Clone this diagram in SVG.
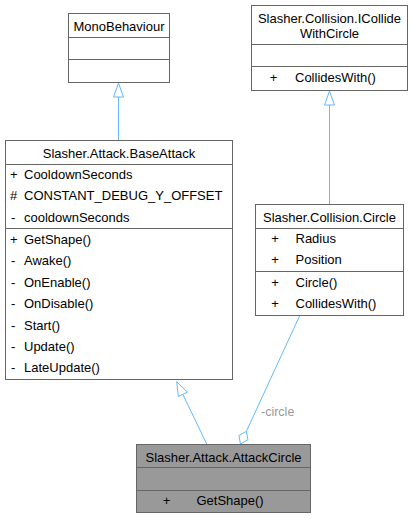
<svg xmlns="http://www.w3.org/2000/svg" width="413" height="519" viewBox="0 0 413 519">
<style>
  .box { fill: #ffffff; stroke: #666666; stroke-width: 1; }
  .cur { fill: #999999; stroke: #666666; stroke-width: 1; }
  .sep { stroke: #666666; stroke-width: 1; }
  text { font-family: "Liberation Sans", Arial, sans-serif; font-size: 13px; fill: #000000; }
  .c { text-anchor: middle; }
  .edge { fill: none; stroke: #63b8ff; stroke-width: 1; }
  .head { fill: #ffffff; stroke: #63b8ff; stroke-width: 1; }
  .lbl { fill: #9a9a9a; font-size: 12.5px; }
</style>
<rect width="413" height="519" fill="#ffffff"/>

<g id="connectors">
  <!-- BaseAttack -> MonoBehaviour -->
  <path class="edge" d="M118.5,140 V97"/>
  <polygon class="head" points="118.5,83 113.5,97 123.5,97"/>
  <!-- Circle -> ICollideWithCircle -->
  <path class="edge" d="M329.5,204 V105"/>
  <polygon class="head" points="329.5,91 324.5,105 334.5,105"/>
  <!-- AttackCircle -> BaseAttack -->
  <path class="edge" d="M206.7,444 L182.8,394.3"/>
  <polygon class="head" points="176.7,381.7 187.3,392.1 178.3,396.5"/>
  <!-- Circle -o AttackCircle -->
  <path class="edge" d="M300,315 L246.4,431.3"/>
  <polygon class="head" points="240.5,444 247.9,439.7 246.4,431.3 238.9,435.5"/>
  <text class="lbl" x="261" y="415.5">-circle</text>
</g>

<g id="MonoBehaviour">
  <rect class="box" x="68.5" y="13.5" width="101" height="69"/>
  <line class="sep" x1="68.5" y1="37.5" x2="169.5" y2="37.5"/>
  <line class="sep" x1="68.5" y1="59.5" x2="169.5" y2="59.5"/>
  <text class="c" x="119" y="31">MonoBehaviour</text>
</g>

<g id="ICollideWithCircle">
  <rect class="box" x="251.5" y="5.5" width="156" height="85"/>
  <line class="sep" x1="251.5" y1="44.5" x2="407.5" y2="44.5"/>
  <line class="sep" x1="251.5" y1="66.5" x2="407.5" y2="66.5"/>
  <text class="c" x="329.5" y="23">Slasher.Collision.ICollide</text>
  <text class="c" x="329.5" y="38">WithCircle</text>
  <text class="c" x="273.5" y="82">+</text>
  <text x="295" y="82">CollidesWith()</text>
</g>

<g id="BaseAttack">
  <rect class="box" x="5.5" y="140.5" width="227" height="239"/>
  <line class="sep" x1="5.5" y1="164.5" x2="232.5" y2="164.5"/>
  <line class="sep" x1="5.5" y1="228.5" x2="232.5" y2="228.5"/>
  <text class="c" x="119" y="158">Slasher.Attack.BaseAttack</text>
  <text x="10" y="179">+</text><text x="24" y="179">CooldownSeconds</text>
  <text x="10" y="200">#</text><text x="24" y="200">CONSTANT_DEBUG_Y_OFFSET</text>
  <text x="11" y="221.5">-</text><text x="24" y="221.5">cooldownSeconds</text>
  <text x="10" y="243.5">+</text><text x="24" y="243.5">GetShape()</text>
  <text x="11" y="265">-</text><text x="24" y="265">Awake()</text>
  <text x="11" y="286.5">-</text><text x="24" y="286.5">OnEnable()</text>
  <text x="11" y="308">-</text><text x="24" y="308">OnDisable()</text>
  <text x="11" y="329.5">-</text><text x="24" y="329.5">Start()</text>
  <text x="11" y="351">-</text><text x="24" y="351">Update()</text>
  <text x="11" y="372">-</text><text x="24" y="372">LateUpdate()</text>
</g>

<g id="Circle">
  <rect class="box" x="255.5" y="204.5" width="148" height="111"/>
  <line class="sep" x1="255.5" y1="228.5" x2="403.5" y2="228.5"/>
  <line class="sep" x1="255.5" y1="271.5" x2="403.5" y2="271.5"/>
  <text class="c" x="329.5" y="221.5">Slasher.Collision.Circle</text>
  <text class="c" x="275" y="243">+</text><text x="295.5" y="243">Radius</text>
  <text class="c" x="275" y="263.5">+</text><text x="295.5" y="263.5">Position</text>
  <text class="c" x="275" y="287">+</text><text x="295.5" y="287">Circle()</text>
  <text class="c" x="275" y="308">+</text><text x="295.5" y="308">CollidesWith()</text>
</g>

<g id="AttackCircle">
  <rect class="cur" x="136.5" y="444.5" width="174" height="68"/>
  <line class="sep" x1="136.5" y1="467.5" x2="310.5" y2="467.5"/>
  <line class="sep" x1="136.5" y1="490.5" x2="310.5" y2="490.5"/>
  <text class="c" x="223.5" y="462">Slasher.Attack.AttackCircle</text>
  <text class="c" x="166.5" y="504.5">+</text>
  <text x="196.5" y="504.5">GetShape()</text>
</g>
</svg>
